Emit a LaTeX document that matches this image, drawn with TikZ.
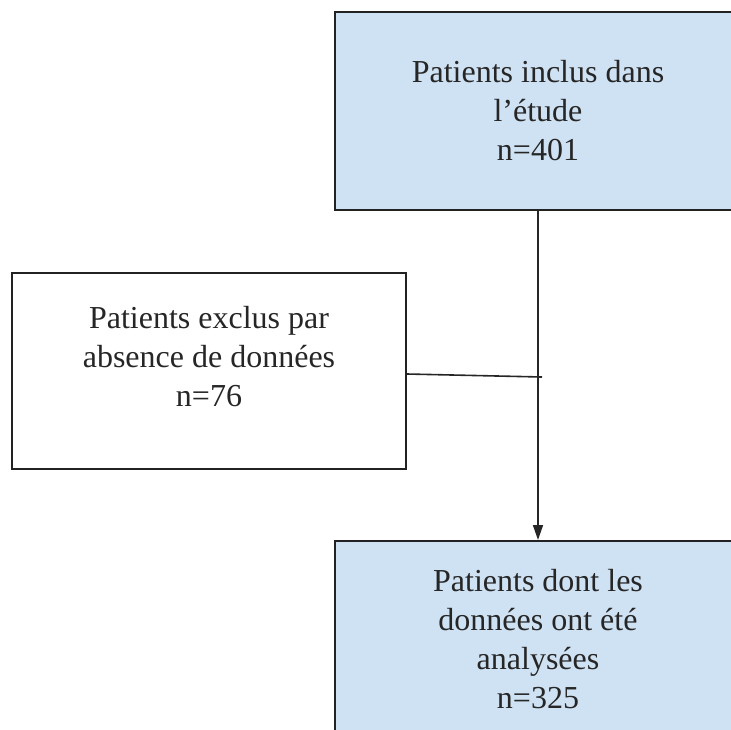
\documentclass[tikz,border=0pt]{standalone}
\usepackage{fontspec}
\setmainfont{Liberation Serif}
\usetikzlibrary{arrows.meta}
\definecolor{boxblue}{HTML}{CFE2F3}
\definecolor{edge}{HTML}{222222}
\tikzset{
  x=1pt, y=1pt,
  flowbox/.style={draw=edge, line width=2pt, rectangle, inner sep=0pt},
  bluebox/.style={flowbox, fill=boxblue},
  boxtext/.style={align=center, inner sep=0pt, text=black!85,
    font=\fontsize{32}{39}\selectfont},
  link/.style={draw=black!85, line width=1.6pt},
}
\begin{document}
\begin{tikzpicture}
\useasboundingbox (0,0) rectangle (731,-729);
\clip (0,0) rectangle (731,-729);
\node[bluebox, boxtext, minimum width=406pt, minimum height=198pt] (incl) at (538,-111)
  {Patients inclus dans\\l’étude\\n=401};
\node[flowbox, minimum width=394pt, minimum height=196pt] (excl) at (209,-371) {};
\node[boxtext] (excltxt) at (209,-357)
  {Patients exclus par\\absence de données\\n=76};
\node[bluebox, boxtext, minimum width=406pt, minimum height=197pt] (anal) at (538,-639.5)
  {Patients dont les\\données ont été\\analysées\\n=325};
\coordinate (join) at (542,-377);
\draw[link, -{Triangle[length=15pt,width=10pt]}] (incl.south) -- (anal.north);
\draw[link] ([yshift=-3pt]excl.east) -- (join);
\end{tikzpicture}
\end{document}
